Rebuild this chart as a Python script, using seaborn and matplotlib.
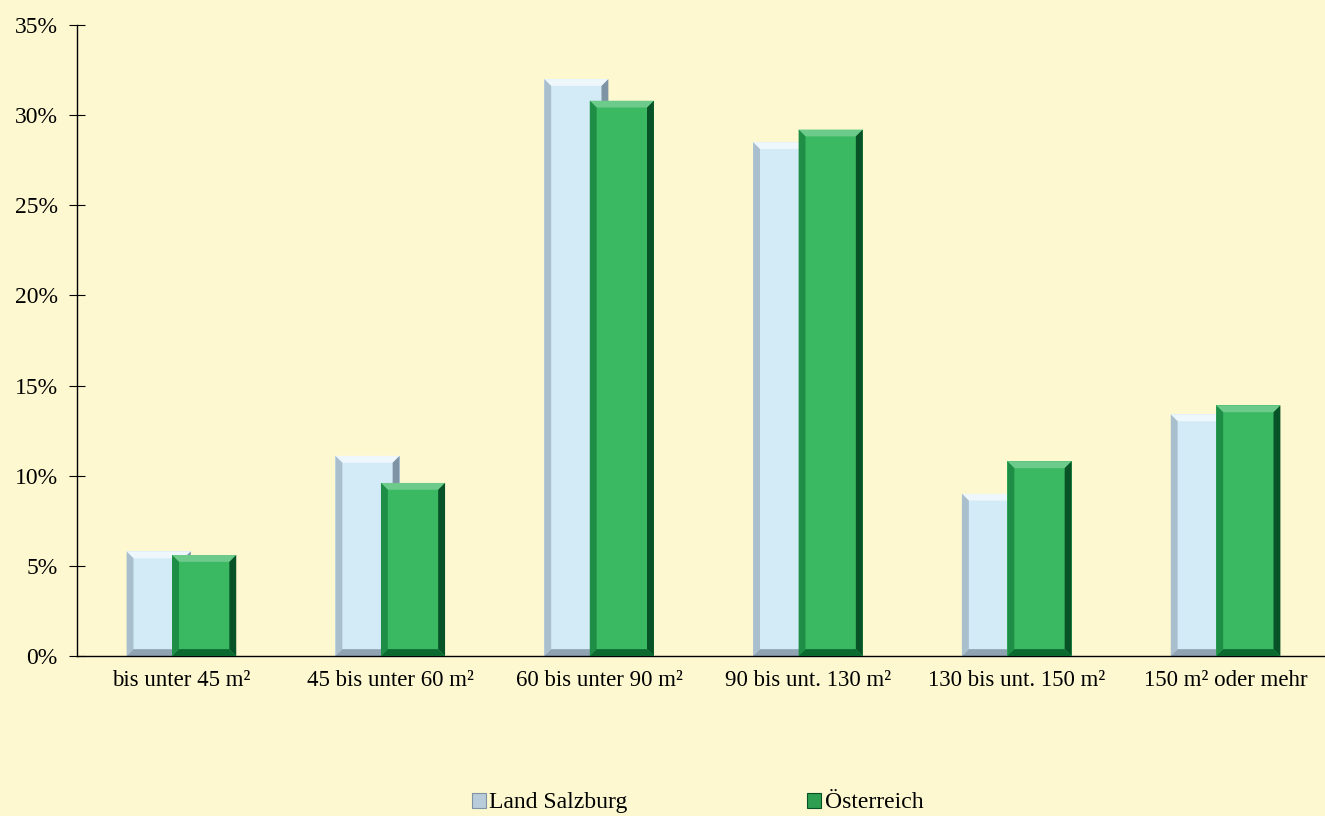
import numpy as np
import pandas as pd
import matplotlib
matplotlib.use("Agg")
import matplotlib.pyplot as plt
from matplotlib.patches import Polygon, Patch
from matplotlib.ticker import FuncFormatter, MultipleLocator
import seaborn as sns

categories = ["bis unter 45 m²", "45 bis unter 60 m²", "60 bis unter 90 m²",
              "90 bis unt. 130 m²", "130 bis unt. 150 m²", "150 m² oder mehr"]
series_names = ["Land Salzburg", "Österreich"]
salzburg = [5.8, 11.1, 32.0, 28.5, 9.0, 13.4]
oesterreich = [5.6, 9.6, 30.8, 29.2, 10.8, 13.9]

df = pd.DataFrame({
    "Kategorie": categories * 2,
    "Serie": [series_names[0]] * 6 + [series_names[1]] * 6,
    "Wert": salzburg + oesterreich,
})

BG = "#FDF8CF"
fills = {"Land Salzburg": "#D3EBF7", "Österreich": "#3BB862"}
bevels = {
    "Land Salzburg": dict(top="#EEF7FB", left="#A9BFCD", right="#7E93A3", bottom="#8FA3B2"),
    "Österreich": dict(top="#6CCB8B", left="#1E8E46", right="#075226", bottom="#0C6A31"),
}

sns.set_theme(style="white")
plt.rcParams["font.family"] = ["Liberation Serif", "DejaVu Serif"]
plt.rcParams["text.color"] = "black"

fig = plt.figure(figsize=(13.25, 8.16), dpi=100, facecolor=BG)
ax = fig.add_axes([77 / 1325, 160 / 816, 1253 / 1325, 631 / 816])
ax.set_facecolor(BG)

sns.barplot(data=df, x="Kategorie", y="Wert", hue="Serie", order=categories,
            hue_order=series_names, palette=fills, ax=ax, legend=False,
            saturation=1, linewidth=0)

ax.set_xlim(-0.5, 5.5)
ax.set_ylim(0, 35)

# reposition bars: overlapping Excel style
bar_w = 0.307
offsets = [-0.109, 0.109]
bx = 0.033   # bevel in x (data units)
by = 0.38    # bevel in y (data units)
for ci, (cont, name) in enumerate(zip(ax.containers, series_names)):
    bev = bevels[name]
    z = 2 + ci * 2
    for i, p in enumerate(cont.patches):
        x0 = i + offsets[ci] - bar_w / 2
        p.set_x(x0)
        p.set_width(bar_w)
        p.set_zorder(z)
        h = p.get_height()
        x1 = x0 + bar_w
        polys = [
            ([(x0, h), (x1, h), (x1 - bx, h - by), (x0 + bx, h - by)], bev["top"]),
            ([(x0, 0), (x0 + bx, by), (x0 + bx, h - by), (x0, h)], bev["left"]),
            ([(x1, 0), (x1, h), (x1 - bx, h - by), (x1 - bx, by)], bev["right"]),
            ([(x0, 0), (x1, 0), (x1 - bx, by), (x0 + bx, by)], bev["bottom"]),
        ]
        for pts, col in polys:
            ax.add_patch(Polygon(pts, closed=True, facecolor=col, edgecolor="none",
                                 zorder=z + 0.5))

# axes styling
for s in ["top", "right"]:
    ax.spines[s].set_visible(False)
for s in ["left", "bottom"]:
    ax.spines[s].set_color("black")
    ax.spines[s].set_linewidth(1.0)
ax.yaxis.set_major_locator(MultipleLocator(5))
ax.yaxis.set_major_formatter(FuncFormatter(lambda v, _: f"{v:.0f}%"))
ax.set_xticks(np.arange(-0.5, 5.6, 1.0), minor=False)
ax.set_xticklabels([])
ax.set_xticks(np.arange(6), minor=True)
ax.set_xticklabels(categories, minor=True)
ax.tick_params(axis="x", which="major", direction="inout", length=16, width=0.8, color="black")
ax.tick_params(axis="x", which="minor", length=0, pad=10, labelsize=16.5, labelcolor="black")
ax.tick_params(axis="y", direction="inout", length=12, width=0.8, color="black",
               labelsize=17, labelcolor="black", pad=8, left=True)
ax.set_xlabel("")
ax.set_ylabel("")
ax.grid(False)

handles = [Patch(facecolor="#B9CCDA", edgecolor="#7E93A3", linewidth=0.8),
           Patch(facecolor="#2E9E50", edgecolor="#075226", linewidth=0.8)]
leg = fig.legend(handles, series_names, loc="center", bbox_to_anchor=(0.5265, 0.016),
                 ncol=2, frameon=False, fontsize=17, handlelength=0.6, handleheight=0.6,
                 handletextpad=0.15, columnspacing=7.6)
for t in leg.get_texts():
    t.set_color("black")

fig.savefig("out.png", dpi=100, facecolor=BG)
